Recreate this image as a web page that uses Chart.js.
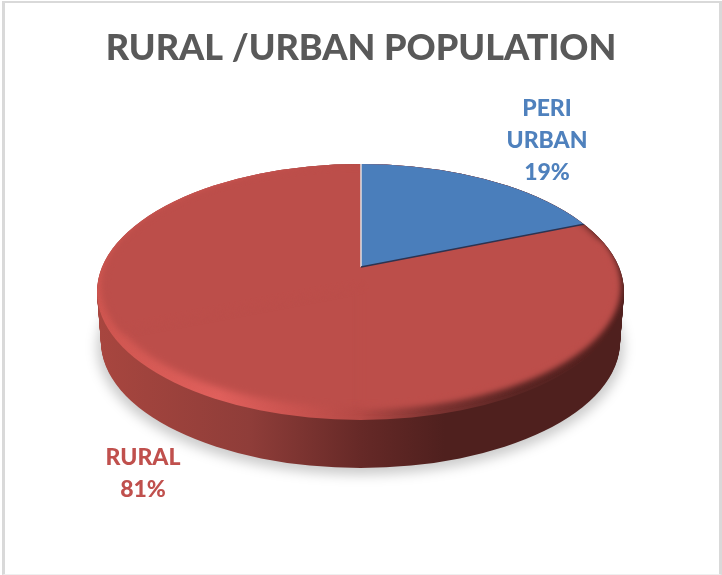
<!DOCTYPE html>
<html>
<head>
<meta charset="utf-8">
<style>
html,body{margin:0;padding:0;background:#fff;overflow:hidden}
#frame{position:absolute;left:2px;top:1px;width:714px;height:571px;border:solid #d9d9d9;border-width:2px 3px 1px 3px;border-bottom-color:#efefef}
#c{position:absolute;left:0;top:0}
</style>
</head>
<body>
<div id="frame"></div>
<canvas id="c" width="722" height="575"></canvas>
<script src="https://cdn.jsdelivr.net/npm/chart.js@4/dist/chart.umd.js"></script>
<script>
const titleText = 'RURAL /URBAN POPULATION';
const categories = ['PERI URBAN', 'RURAL'];
const shares = [19, 81];
const sliceColors = ['#4a7ebb', '#bc4e4a'];
const labelColors = ['#4f81bd', '#c0504d'];
const labelAnchors = [[547, 116], [143, 465]];

const face = {cx: 360.5, cy: 292, rx: 263.5, ry: 128};
const inner = {cx: 361, cy: 286, rx: 258, ry: 121.5};
const apex = {x: 361, y: 267};
const depth = 50;

function hGrad(ctx, x0, x1, stops){
  const g = ctx.createLinearGradient(x0, 0, x1, 0);
  stops.forEach(s => g.addColorStop(s[0], s[1]));
  return g;
}
function ellipsePath(ctx, e, dy, shrink){
  ctx.beginPath();
  ctx.ellipse(e.cx, e.cy + (dy||0), e.rx - (shrink||0), e.ry - (shrink||0)/2, 0, 0, Math.PI*2);
}
function drawArcMapped(ctx, arc, cx, cy, rx, ry, rot){
  ctx.save();
  ctx.translate(cx, cy);
  ctx.scale(rx/arc.outerRadius, ry/arc.outerRadius);
  if (rot) ctx.rotate(rot);
  ctx.translate(-arc.x, -arc.y);
  arc.draw(ctx);
  ctx.restore();
}
const pie3d = {
  id: 'pie3d',
  beforeDatasetsDraw(chart){
    const ctx = chart.ctx;
    const arcs = chart.getDatasetMeta(0).data;
    const blue = arcs[0], red = arcs[1];

    // soft ground shadow
    ctx.save();
    ctx.filter = 'blur(6px)';
    ctx.fillStyle = 'rgba(0,0,0,0.2)';
    ellipsePath(ctx, face, depth + 5, 0);
    ctx.fill();
    ctx.restore();

    // side wall
    const side = hGrad(ctx, 97, 624, [[0,'#a8463f'],[0.29,'#8f3d39'],[0.5,'#662927'],[0.66,'#4f201e'],[1,'#4f201e']]);
    ctx.fillStyle = side;
    for (let d = depth; d >= 0; d--) {
      ellipsePath(ctx, face, d, 4*d/depth);
      ctx.fill();
    }

    // bevel rim
    const rim = hGrad(ctx, 97, 624, [[0,'#cf5650'],[0.23,'#e0605c'],[0.38,'#c9534f'],[0.5,'#b54a46'],[0.65,'#7a3230'],[0.8,'#5a2523'],[1,'#4f1f1d']]);
    ctx.fillStyle = rim;
    ellipsePath(ctx, face, 0, 0);
    ctx.fill();

    // top face: rural slice drawn with its rotated copy to close the ellipse
    ctx.save();
    ellipsePath(ctx, face, 0, 0);
    ctx.clip();
    ctx.filter = 'blur(3.5px)';
    drawArcMapped(ctx, red, inner.cx, inner.cy, inner.rx, inner.ry, 0);
    drawArcMapped(ctx, red, inner.cx, inner.cy, inner.rx, inner.ry, Math.PI);
    ctx.filter = 'none';

    // peri-urban slice, clipped to the ellipse, apex off-centre as in perspective
    const k = 1.7, sx = face.rx*k, sy = face.ry*k;
    drawArcMapped(ctx, blue, apex.x, apex.y, sx, sy, 0);

    // slice edges
    const edge = (ang, col, w) => {
      ctx.beginPath();
      ctx.moveTo(apex.x, apex.y);
      ctx.lineTo(apex.x + Math.cos(ang)*sx, apex.y + Math.sin(ang)*sy);
      ctx.strokeStyle = col; ctx.lineWidth = w; ctx.stroke();
    };
    edge(blue.startAngle, '#e4dfdf', 1.5);
    edge(blue.endAngle, '#2d3350', 1.5);
    ctx.restore();
    return false;
  },
  afterDraw(chart){
    const ctx = chart.ctx;
    ctx.save();
    ctx.font = '900 23px Lato';
    ctx.textAlign = 'center';
    ctx.textBaseline = 'alphabetic';
    categories.forEach((name, i) => {
      const lines = name.split(' ').concat(shares[i] + '%');
      ctx.fillStyle = labelColors[i];
      lines.forEach((t, j) => ctx.fillText(t, labelAnchors[i][0], labelAnchors[i][1] + j*32));
    });
    ctx.restore();
  }
};
new Chart(document.getElementById('c'), {
  type: 'pie',
  data: {labels: categories, datasets: [{data: shares, backgroundColor: sliceColors, borderWidth: 0}]},
  options: {
    responsive: false,
    animation: false,
    plugins: {
      legend: {display: false},
      tooltip: {enabled: false},
      title: {display: true, text: titleText, color: '#595959', font: {family: 'Lato', size: 36, weight: '900'}, padding: {top: 27, bottom: 10}}
    }
  },
  plugins: [pie3d]
});
</script>
</body>
</html>
